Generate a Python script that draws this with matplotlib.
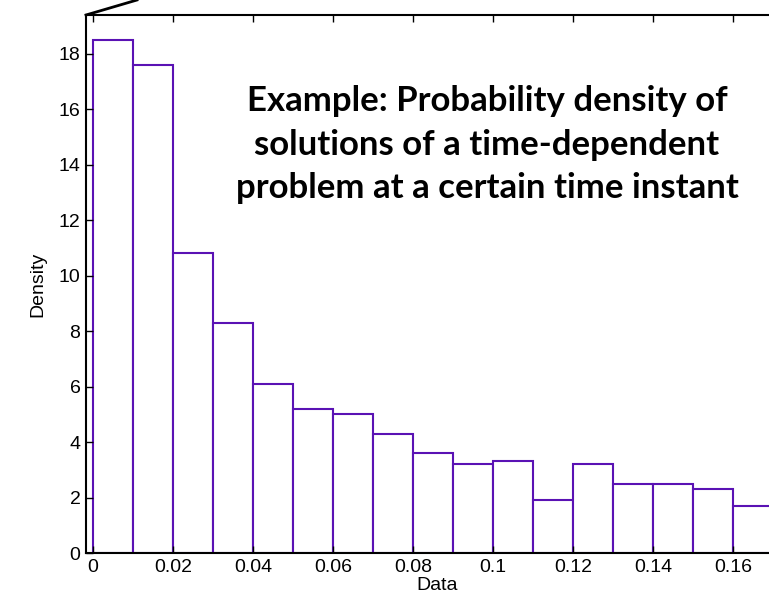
import numpy as np
import matplotlib.pyplot as plt
from matplotlib.lines import Line2D

# === Data histogram (bin edges and densities) ===
bin_left = [0.00, 0.01, 0.02, 0.03, 0.04, 0.05, 0.06, 0.07, 0.08,
            0.09, 0.10, 0.11, 0.12, 0.13, 0.14, 0.15, 0.16]
density = [18.5, 17.6, 10.8, 8.3, 6.1, 5.2, 5.0, 4.3, 3.6,
           3.2, 3.3, 1.9, 3.2, 2.5, 2.5, 2.3, 1.7]
bin_width = 0.01
xticks = [0, 0.02, 0.04, 0.06, 0.08, 0.1, 0.12, 0.14, 0.16]
xticklabels = ['0', '0.02', '0.04', '0.06', '0.08', '0.1', '0.12', '0.14', '0.16']
yticks = [0, 2, 4, 6, 8, 10, 12, 14, 16, 18]

plt.rcParams['font.family'] = ['Liberation Sans', 'DejaVu Sans']

W, H = 769, 601
fig = plt.figure(figsize=(W / 100, H / 100), dpi=100)

# axes runs past the right border of the picture, like the original
x0, x1 = -0.00175, 0.174
left_px, top_px, bottom_px = 86, 15, 553
right_px = 93 + x1 * 4000
ax = fig.add_axes([left_px / W, 1 - bottom_px / H,
                   (right_px - left_px) / W, (bottom_px - top_px) / H])

ax.bar(bin_left, density, width=bin_width, align='edge',
       facecolor='white', edgecolor='#5a12b4', linewidth=1.5)

ax.set_xlim(x0, x1)
ax.set_ylim(0, 19.4)
ax.set_xticks(xticks)
ax.set_xticklabels(xticklabels)
ax.set_yticks(yticks)
ax.tick_params(direction='in', length=5, width=1, top=True, right=False,
               labelsize=14, pad=4)
for s in ['left', 'bottom', 'top']:
    ax.spines[s].set_linewidth(1.5)
ax.spines['right'].set_visible(False)

ax.set_xlabel('Data', fontsize=14, labelpad=1)
ax.set_ylabel('Density', fontsize=14, labelpad=9)

# judul
ax.text(0.0985, 14.72, 'Example: Probability density of\nsolutions of a time-dependent\nproblem at a certain time instant',
        ha='center', va='center', fontsize=25, fontweight='bold',
        family=['Lato', 'DejaVu Sans'], linespacing=1.44)

# garis miring di pojok kiri atas
fig.add_artist(Line2D([left_px / W, 137 / W], [1 - top_px / H, 1.0],
                      color='black', linewidth=2))

fig.savefig('out.png', dpi=100)
